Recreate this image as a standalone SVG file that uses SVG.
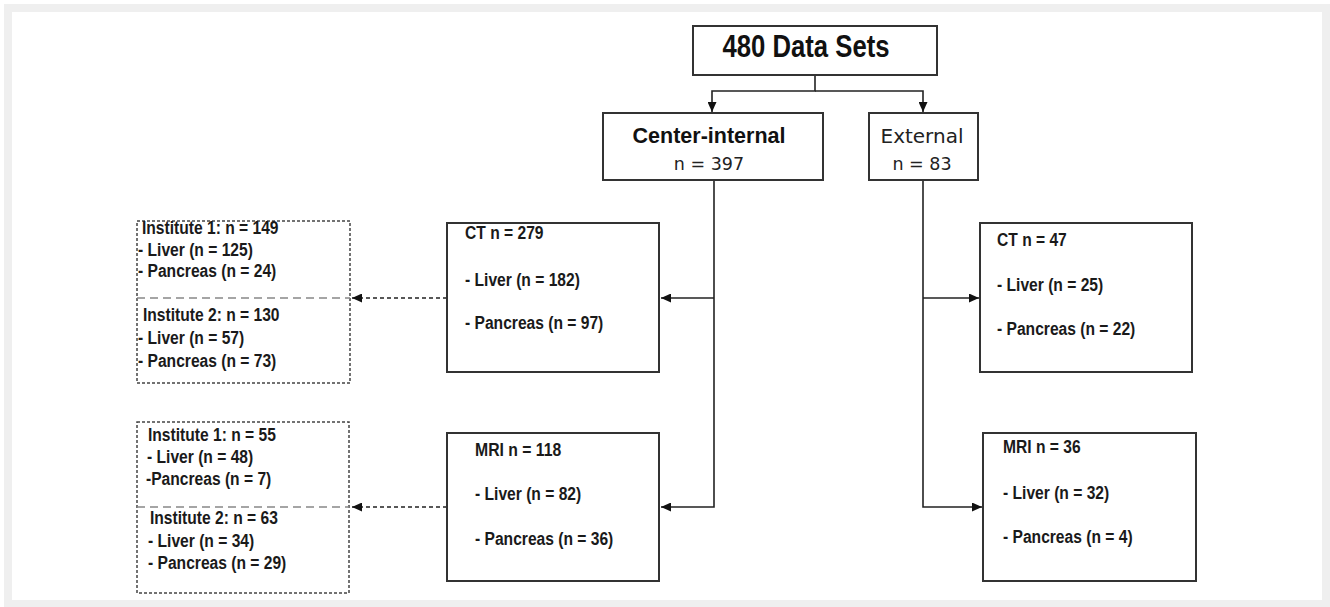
<svg xmlns="http://www.w3.org/2000/svg" width="1330" height="607" viewBox="0 0 1330 607">
<style>
.box{fill:#fff;stroke:#333;stroke-width:2}
.dbox{fill:#fff;stroke:#444;stroke-width:1.5;stroke-dasharray:3 2}
.div{stroke:#888;stroke-width:1.5;stroke-dasharray:8 5;fill:none}
.t{font-family:"Liberation Sans",Arial,sans-serif;font-weight:bold;font-size:17.5px;fill:#1a1a1a}
.v{font-family:"DejaVu Sans",Verdana,sans-serif;fill:#222}
.c{fill:none;stroke:#222;stroke-width:1.6}
.cd{fill:none;stroke:#222;stroke-width:1.5;stroke-dasharray:4 3}
</style>
<defs>
<marker id="ah" markerUnits="userSpaceOnUse" markerWidth="11" markerHeight="9" refX="10" refY="4.5" orient="auto">
<path d="M0,0 L10,4.5 L0,9 z" fill="#111"/>
</marker>
</defs>
<rect x="4" y="4" width="1326" height="603" fill="#efefef"/>
<rect x="12" y="12" width="1310" height="588" fill="#fff"/>

<g id="connectors">
<path class="c" d="M815,75 V91 H712 V112" marker-end="url(#ah)"/>
<path class="c" d="M815,91 H923 V112" marker-end="url(#ah)"/>
<path class="c" d="M714,180 V507 H661" marker-end="url(#ah)"/>
<path class="c" d="M714,298 H661" marker-end="url(#ah)"/>
<path class="c" d="M923,180 V507 H982" marker-end="url(#ah)"/>
<path class="c" d="M923,298 H979" marker-end="url(#ah)"/>
<path class="cd" d="M447,298 H352" marker-end="url(#ah)"/>
<path class="cd" d="M447,507 H352" marker-end="url(#ah)"/>
</g>

<g id="root">
<rect class="box" x="693" y="26" width="244" height="49"/>
<text x="806" y="57" text-anchor="middle" font-family="Liberation Sans,Arial,sans-serif" font-weight="bold" font-size="32" fill="#111" textLength="167" lengthAdjust="spacingAndGlyphs">480 Data Sets</text>
</g>

<g id="center-internal">
<rect class="box" x="603" y="113" width="220" height="67"/>
<text x="709" y="143" text-anchor="middle" font-family="Liberation Sans,Arial,sans-serif" font-weight="bold" font-size="21.5" fill="#111">Center-internal</text>
<text class="v" x="709" y="170" text-anchor="middle" font-size="17.5">n = 397</text>
</g>

<g id="external">
<rect class="box" x="869" y="113" width="109" height="67"/>
<text class="v" x="922" y="143" text-anchor="middle" font-size="20">External</text>
<text class="v" x="922" y="170" text-anchor="middle" font-size="17.5">n = 83</text>
</g>

<g id="ct-internal">
<rect class="box" x="447" y="223" width="212" height="149"/>
<text class="t" x="465" y="239" textLength="78.5" lengthAdjust="spacingAndGlyphs">CT n = 279</text>
<text class="t" x="465" y="286" textLength="114.9" lengthAdjust="spacingAndGlyphs">- Liver (n = 182)</text>
<text class="t" x="465" y="329" textLength="138.3" lengthAdjust="spacingAndGlyphs">- Pancreas (n = 97)</text>
</g>

<g id="mri-internal">
<rect class="box" x="447" y="433" width="212" height="148"/>
<text class="t" x="475" y="456" textLength="86.3" lengthAdjust="spacingAndGlyphs">MRI n = 118</text>
<text class="t" x="475" y="500" textLength="106.2" lengthAdjust="spacingAndGlyphs">- Liver (n = 82)</text>
<text class="t" x="475" y="545" textLength="138.3" lengthAdjust="spacingAndGlyphs">- Pancreas (n = 36)</text>
</g>

<g id="ct-external">
<rect class="box" x="980" y="223" width="212" height="149"/>
<text class="t" x="997" y="246" textLength="69.8" lengthAdjust="spacingAndGlyphs">CT n = 47</text>
<text class="t" x="997" y="291" textLength="106.2" lengthAdjust="spacingAndGlyphs">- Liver (n = 25)</text>
<text class="t" x="997" y="335" textLength="138.3" lengthAdjust="spacingAndGlyphs">- Pancreas (n = 22)</text>
</g>

<g id="mri-external">
<rect class="box" x="983" y="433" width="213" height="148"/>
<text class="t" x="1003" y="453" textLength="77.6" lengthAdjust="spacingAndGlyphs">MRI n = 36</text>
<text class="t" x="1003" y="499" textLength="106.2" lengthAdjust="spacingAndGlyphs">- Liver (n = 32)</text>
<text class="t" x="1003" y="543" textLength="129.6" lengthAdjust="spacingAndGlyphs">- Pancreas (n = 4)</text>
</g>

<g id="ct-institutes">
<rect class="dbox" x="137" y="221" width="213" height="162"/>
<line class="div" x1="137" y1="298" x2="350" y2="298"/>
<text class="t" x="142" y="234" textLength="136.5" lengthAdjust="spacingAndGlyphs">Institute 1: n = 149</text>
<text class="t" x="138" y="256" textLength="114.9" lengthAdjust="spacingAndGlyphs">- Liver (n = 125)</text>
<text class="t" x="138" y="277" textLength="138.3" lengthAdjust="spacingAndGlyphs">- Pancreas (n = 24)</text>
<text class="t" x="143" y="321" textLength="136.5" lengthAdjust="spacingAndGlyphs">Institute 2: n = 130</text>
<text class="t" x="138" y="344" textLength="106.2" lengthAdjust="spacingAndGlyphs">- Liver (n = 57)</text>
<text class="t" x="138" y="367" textLength="138.3" lengthAdjust="spacingAndGlyphs">- Pancreas (n = 73)</text>
</g>

<g id="mri-institutes">
<rect class="dbox" x="137" y="422" width="212" height="171"/>
<line class="div" x1="137" y1="507" x2="349" y2="507"/>
<text class="t" x="148" y="441" textLength="127.9" lengthAdjust="spacingAndGlyphs">Institute 1: n = 55</text>
<text class="t" x="147" y="463" textLength="106.2" lengthAdjust="spacingAndGlyphs">- Liver (n = 48)</text>
<text class="t" x="146" y="485" textLength="125.3" lengthAdjust="spacingAndGlyphs">-Pancreas (n = 7)</text>
<text class="t" x="150" y="524" textLength="127.9" lengthAdjust="spacingAndGlyphs">Institute 2: n = 63</text>
<text class="t" x="148" y="547" textLength="106.2" lengthAdjust="spacingAndGlyphs">- Liver (n = 34)</text>
<text class="t" x="148" y="569" textLength="138.3" lengthAdjust="spacingAndGlyphs">- Pancreas (n = 29)</text>
</g>
</svg>
